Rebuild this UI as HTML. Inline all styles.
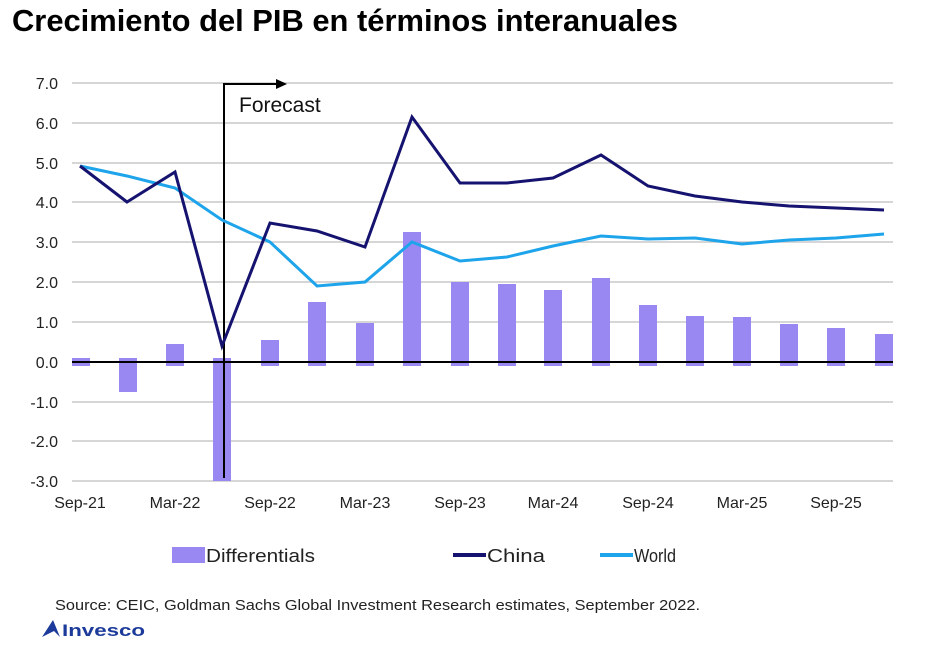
<!DOCTYPE html>
<html><head><meta charset="utf-8"><style>
body{margin:0;background:#fff;width:949px;height:661px;overflow:hidden;font-family:"Liberation Sans",Arial,sans-serif}
</style></head><body>
<svg width="949" height="661" xmlns="http://www.w3.org/2000/svg" font-family="Liberation Sans, Arial, sans-serif">
<text x="12" y="31" font-size="30.5" font-weight="bold" fill="#000" textLength="666" lengthAdjust="spacingAndGlyphs">Crecimiento del PIB en términos interanuales</text>
<g stroke="#c8c8c8" stroke-width="1.5">
<line x1="72" x2="893" y1="83" y2="83"/><line x1="72" x2="893" y1="123" y2="123"/><line x1="72" x2="893" y1="163" y2="163"/><line x1="72" x2="893" y1="202" y2="202"/><line x1="72" x2="893" y1="242" y2="242"/><line x1="72" x2="893" y1="282" y2="282"/><line x1="72" x2="893" y1="322" y2="322"/><line x1="72" x2="893" y1="402" y2="402"/><line x1="72" x2="893" y1="441" y2="441"/><line x1="72" x2="893" y1="481" y2="481"/>
</g>
<g font-size="16" fill="#222" text-anchor="end">
<text x="58" y="89">7.0</text><text x="58" y="129">6.0</text><text x="58" y="169">5.0</text><text x="58" y="208">4.0</text><text x="58" y="248">3.0</text><text x="58" y="288">2.0</text><text x="58" y="328">1.0</text><text x="58" y="368">0.0</text><text x="58" y="408">-1.0</text><text x="58" y="447">-2.0</text><text x="58" y="487">-3.0</text>
</g>
<g fill="#9a88f2">
<rect x="72" y="358" width="18" height="8"/>
<rect x="119" y="358" width="18" height="34"/>
<rect x="166" y="344" width="18" height="22"/>
<rect x="213" y="358" width="18" height="123"/>
<rect x="261" y="340" width="18" height="26"/>
<rect x="308" y="302" width="18" height="64"/>
<rect x="356" y="323" width="18" height="43"/>
<rect x="403" y="232" width="18" height="134"/>
<rect x="451" y="282" width="18" height="84"/>
<rect x="498" y="284" width="18" height="82"/>
<rect x="544" y="290" width="18" height="76"/>
<rect x="592" y="278" width="18" height="88"/>
<rect x="639" y="305" width="18" height="61"/>
<rect x="686" y="316" width="18" height="50"/>
<rect x="733" y="317" width="18" height="49"/>
<rect x="780" y="324" width="18" height="42"/>
<rect x="827" y="328" width="18" height="38"/>
<rect x="875" y="334" width="18" height="32"/>
</g>
<line x1="72" x2="893" y1="362" y2="362" stroke="#000" stroke-width="2"/>
<line x1="224" x2="224" y1="83" y2="478" stroke="#000" stroke-width="2"/>
<line x1="224" x2="276" y1="84" y2="84" stroke="#000" stroke-width="2"/>
<polygon points="276,79 287,84 276,89" fill="#000"/>
<text x="239" y="112" font-size="21" fill="#111">Forecast</text>
<polyline fill="none" stroke="#1ea4ea" stroke-width="3" points="80,166 127,176 175,188 222,220 270,242 317,286 365,282 412,242 460,261 507,257 553,246 601,236 648,239 695,238 742,244 789,240 836,238 884,234"/>
<polyline fill="none" stroke="#15136f" stroke-width="3" points="80,166 127,202 175,172 222,346 270,223 317,231 365,247 412,117 460,183 507,183 553,178 601,155 648,186 695,196 742,202 789,206 836,208 884,210"/>
<g font-size="16" fill="#222" text-anchor="middle">
<text x="80" y="508">Sep-21</text><text x="175" y="508">Mar-22</text><text x="270" y="508">Sep-22</text><text x="365" y="508">Mar-23</text><text x="460" y="508">Sep-23</text><text x="553" y="508">Mar-24</text><text x="648" y="508">Sep-24</text><text x="742" y="508">Mar-25</text><text x="836" y="508">Sep-25</text>
</g>
<rect x="172" y="547" width="33" height="16" fill="#9a88f2"/>
<text x="206" y="562" font-size="18" fill="#222" textLength="109" lengthAdjust="spacingAndGlyphs">Differentials</text>
<line x1="453" x2="486" y1="555" y2="555" stroke="#15136f" stroke-width="4"/>
<text x="487" y="562" font-size="18" fill="#222" textLength="58" lengthAdjust="spacingAndGlyphs">China</text>
<line x1="600" x2="633" y1="555" y2="555" stroke="#1ea4ea" stroke-width="4"/>
<text x="634" y="562" font-size="18" fill="#222" textLength="42" lengthAdjust="spacingAndGlyphs">World</text>
<text x="55" y="610" font-size="14.5" fill="#222" textLength="645" lengthAdjust="spacingAndGlyphs">Source: CEIC, Goldman Sachs Global Investment Research estimates, September 2022.</text>
<polygon points="42,637 53,620 60,637 54,631" fill="#1b3a9a"/>
<text x="62" y="636" font-size="17" font-weight="bold" fill="#1b3a9a" textLength="83" lengthAdjust="spacingAndGlyphs">Invesco</text>
</svg>
</body></html>
